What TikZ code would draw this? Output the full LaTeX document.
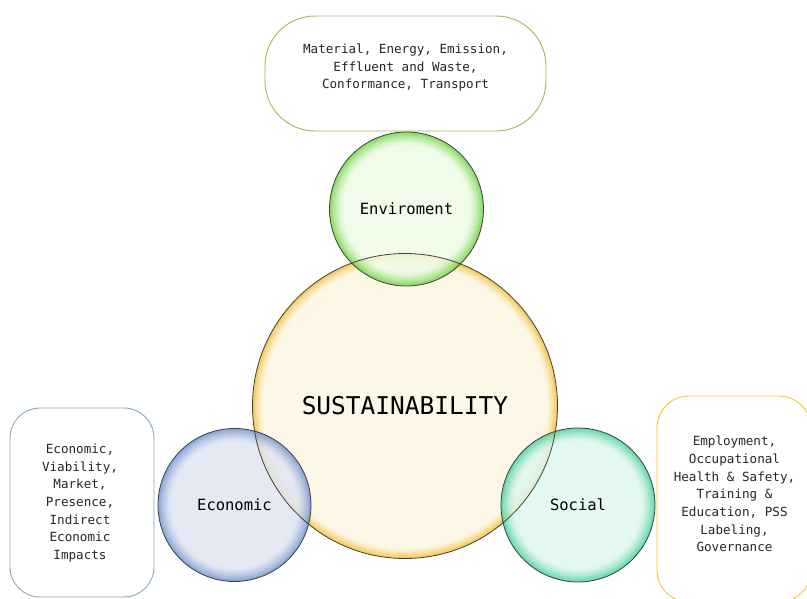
\documentclass[tikz,border=0pt]{standalone}
\usepackage{fontspec}
\setmonofont{DejaVu Sans Mono}
\definecolor{envin}{HTML}{EEFBE6}
\definecolor{envout}{HTML}{6CD33E}
\definecolor{susin}{HTML}{FDF6E4}
\definecolor{susout}{HTML}{F2BE2C}
\definecolor{ecoin}{HTML}{DFE5F2}
\definecolor{ecoout}{HTML}{6F90CF}
\definecolor{socin}{HTML}{DFF7EE}
\definecolor{socout}{HTML}{45CF98}
\definecolor{topbox}{HTML}{9BBB59}
\definecolor{leftbox}{HTML}{7FA7C9}
\definecolor{rightbox}{HTML}{F2C830}
\newcommand\mybubble[5]{% center, radius, inner, outer, rim width
  \begin{scope}[transparency group, opacity=0.82]
  \foreach \k in {0,...,#5}{%
    \pgfmathsetmacro\pct{100*(1-\k/#5)^1.5}%
    \pgfmathsetmacro\rr{#2-\k}%
    \fill[#4!\pct!#3] #1 circle[radius=\rr pt];
  }%
  \end{scope}
}
\tikzset{
  bubble/.style={circle, inner sep=0pt, draw=black!75, line width=0.8pt, font=\ttfamily\fontsize{15.5}{18}\selectfont},
  infobox/.style={rounded corners=#1, line width=0.9pt, fill=white},
  boxtext/.style={align=center, text=black!85, font=\ttfamily\fontsize{12.6}{17.7}\selectfont},
}
\begin{document}
\begin{tikzpicture}[x=1pt,y=-1pt]
\useasboundingbox (0,0) rectangle (807,598);
\fill[white] (0,0) rectangle (807,598);
% boxes
\draw[infobox=50, draw=topbox] (265,16) rectangle (546,131);
\node[boxtext] (envtext) at (405.5,67.5) {Material, Energy, Emission,\\Effluent and Waste,\\Conformance, Transport};
\draw[infobox=30, draw=leftbox] (10,408) rectangle (154,597);
\node[boxtext] (ecotext) at (80,503) {Economic,\\Viability,\\Market,\\Presence,\\Indirect\\Economic\\Impacts};
\begin{scope}
\clip (0,0) rectangle (807,598);
\draw[infobox=32, draw=rightbox] (657,396) rectangle (811,602);
\end{scope}
\node[boxtext] (soctext) at (734.5,494) {Employment,\\Occupational\\Health \& Safety,\\Training \&\\Education, PSS\\Labeling,\\Governance};
% circle fills
\mybubble{(405,406)}{152.5}{susin}{susout}{11}
\mybubble{(406.5,209)}{77}{envin}{envout}{14}
\mybubble{(234.5,505)}{76.5}{ecoin}{ecoout}{14}
\mybubble{(578,505)}{77}{socin}{socout}{14}
% outlines and labels
\node[bubble, minimum size=305pt, font=\ttfamily\fontsize{24.5}{27}\selectfont] (sus) at (405,406) {SUSTAINABILITY};
\node[bubble, minimum size=154pt] (env) at (406.5,209) {Enviroment};
\node[bubble, minimum size=153pt] (eco) at (234.5,505) {Economic};
\node[bubble, minimum size=154pt] (soc) at (578,505) {Social};
\end{tikzpicture}
\end{document}
